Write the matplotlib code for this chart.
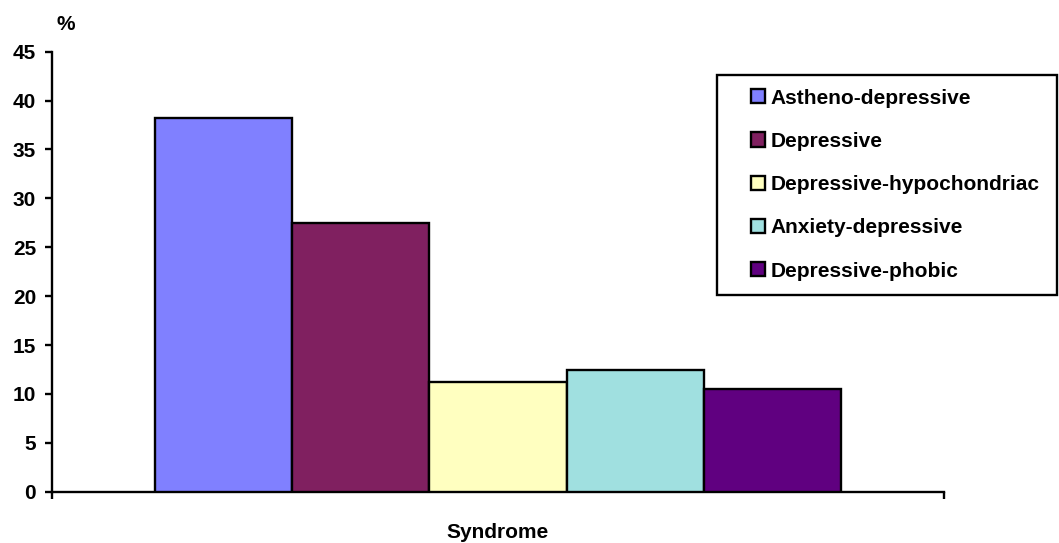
import numpy as np
import matplotlib
matplotlib.use("Agg")
import matplotlib.pyplot as plt
from matplotlib.patches import Rectangle, Patch

plt.rcParams['font.family'] = ['Liberation Sans', 'DejaVu Sans']
plt.rcParams['font.weight'] = 'bold'

# Share of patients (%) by depressive syndrome type
syndromes = ["Astheno-depressive", "Depressive", "Depressive-hypochondriac",
             "Anxiety-depressive", "Depressive-phobic"]
percent = [38.2, 27.5, 11.2, 12.4, 10.5]
colors = ["#8080FF", "#802060", "#FFFFC0", "#A0E0E0", "#600080"]
y_ticks = [0, 5, 10, 15, 20, 25, 30, 35, 40, 45]

FS = 15
W, H = 1059, 543
fig = plt.figure(figsize=(W / 100, H / 100), dpi=100)
ax = fig.add_axes([52 / W, (H - 491.7) / H, 892 / W, 440 / H])

# one category on [0, 1]; the five series sit side by side around its centre
bar_w = 0.154
centres = 0.5 + (np.arange(len(percent)) - (len(percent) - 1) / 2) * bar_w
for c, v, col, lab in zip(centres, percent, colors, syndromes):
    ax.bar(c, v, width=bar_w, color=col, edgecolor="black", linewidth=1.7,
           label=lab, zorder=3)

ax.set_xlim(0, 1)
ax.set_ylim(0, 45)
ax.set_yticks(y_ticks)
ax.set_yticklabels([str(t) for t in y_ticks], fontsize=FS, fontweight="bold")
ax.set_xticks([0, 1])
ax.set_xticklabels(["", ""])
ax.tick_params(axis="both", direction="out", length=5, width=1.7,
               color="black", pad=6.5)
for s in ("top", "right"):
    ax.spines[s].set_visible(False)
for s in ("left", "bottom"):
    ax.spines[s].set_linewidth(1.7)
    ax.spines[s].set_color("black")

fig.text(66 / W, 1 - 24 / H, "%", ha="center", va="center",
         fontsize=FS, fontweight="bold")
fig.text(498 / W, 1 - 533 / H, "Syndrome", ha="center", va="center",
         fontsize=FS, fontweight="bold")

# legend box
fig.patches.append(Rectangle((717 / W, 1 - 295 / H), 340 / W, 220 / H,
                             transform=fig.transFigure, facecolor="white",
                             edgecolor="black", linewidth=1.7, zorder=5))
handles = [Patch(facecolor=c, edgecolor="black", linewidth=1.7) for c in colors]
leg = fig.legend(handles, syndromes, loc="upper left",
                 bbox_to_anchor=(751 / W, 1 - 88.5 / H),
                 frameon=False, borderpad=0, borderaxespad=0,
                 handlelength=0.68, handleheight=0.68, handletextpad=0.25,
                 labelspacing=1.165,
                 prop={"size": FS, "weight": "bold"})
leg.set_zorder(6)

fig.savefig("out.png", dpi=100)
